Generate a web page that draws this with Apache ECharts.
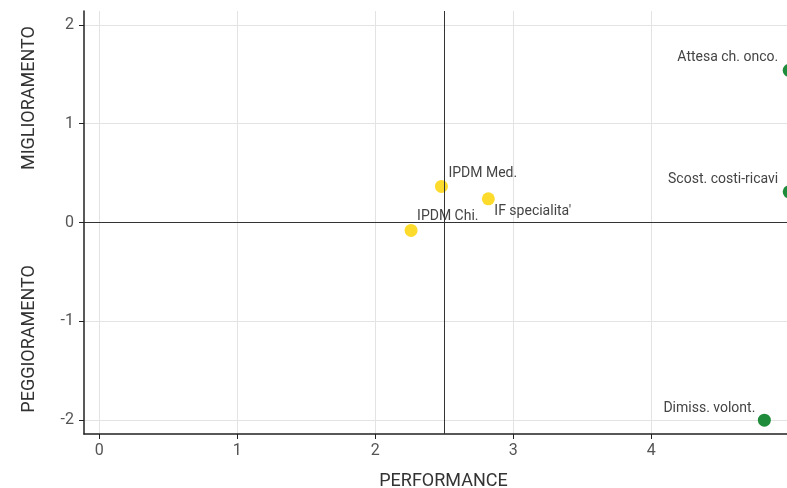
<!DOCTYPE html>
<html><head><meta charset="utf-8">
<script src="https://cdn.jsdelivr.net/npm/echarts@6/dist/echarts.min.js"></script>
<style>html,body{margin:0;padding:0;background:#fff}#c{width:787px;height:488px}</style>
</head><body><div id="c"></div>
<script>
const names = ["IPDM Med.", "IF specialita'", "IPDM Chi.", "Attesa ch. onco.", "Scost. costi-ricavi", "Dimiss. volont."];
const performance = [2.48, 2.82, 2.26, 5.0, 5.0, 4.82];
const miglioramento = [0.365, 0.24, -0.08, 1.54, 0.31, -2.0];
const groups = ["mid", "mid", "mid", "top", "top", "top"];
const xTicks = [0, 1, 2, 3, 4];
const yTicks = [-2, -1, 0, 1, 2];
const xMid = 2.5, yMid = 0;

const labelCfg = {
  "IPDM Med.": {offset: [7, -13], align: 'left'},
  "IF specialita'": {offset: [6, 13], align: 'left'},
  "IPDM Chi.": {offset: [6, -14], align: 'left'},
  "Attesa ch. onco.": {offset: [-11, -13], align: 'right'},
  "Scost. costi-ricavi": {offset: [-11, -12], align: 'right'},
  "Dimiss. volont.": {offset: [-9, -12], align: 'right'}
};
const colors = {mid: '#FDDB2D', top: '#1E8C3A'};
const font = 'Roboto';
const data = names.map((n, i) => ({
  value: [performance[i], miglioramento[i]],
  name: n,
  itemStyle: {color: colors[groups[i]], opacity: 1},
  label: {show: true, formatter: n, position: 'inside', offset: labelCfg[n].offset, align: labelCfg[n].align,
    verticalAlign: 'middle', color: '#444', fontSize: 14, fontFamily: font}
}));

const chart = echarts.init(document.getElementById('c'));
chart.setOption({
  animation: false,
  grid: {left: 84, top: 11, height: 423, width: 719, containLabel: false, outerBoundsMode: 'none'},
  xAxis: {
    type: 'value', min: -0.11, max: 5.1,
    name: 'PERFORMANCE', nameLocation: 'middle', nameGap: 38,
    nameTextStyle: {fontSize: 18, color: '#333', fontFamily: font},
    axisLine: {show: true, onZero: false, lineStyle: {color: '#222', width: 1.5}},
    axisTick: {show: true, length: 5, lineStyle: {color: '#222'}, customValues: xTicks},
    axisLabel: {color: '#555', fontSize: 16, fontFamily: font, margin: 9, customValues: xTicks},
    splitLine: {show: true, lineStyle: {color: '#e3e3e3'}, customValues: xTicks}
  },
  yAxis: {
    type: 'value', min: -2.14, max: 2.14,
    axisLine: {show: true, onZero: false, lineStyle: {color: '#222', width: 1.5}},
    axisTick: {show: true, length: 5, lineStyle: {color: '#222'}, customValues: yTicks},
    axisLabel: {color: '#555', fontSize: 16, fontFamily: font, margin: 10, customValues: yTicks},
    splitLine: {show: true, lineStyle: {color: '#e3e3e3'}, customValues: yTicks}
  },
  graphic: [
    {type: 'text', left: 20, top: 26, rotation: Math.PI/2, style: {text: 'MIGLIORAMENTO', fontSize: 18, fill: '#333', fontFamily: font}},
    {type: 'text', left: 20, top: 265, rotation: Math.PI/2, style: {text: 'PEGGIORAMENTO', fontSize: 18, fill: '#333', fontFamily: font}}
  ],
  series: [{
    type: 'scatter', symbolSize: 13, clip: false, data: data,
    emphasis: {disabled: true},
    markLine: {
      silent: true, symbol: 'none', label: {show: false},
      lineStyle: {color: '#333', width: 1, type: 'solid'},
      data: [{xAxis: xMid}, {yAxis: yMid}]
    }
  }]
});
</script></body></html>
